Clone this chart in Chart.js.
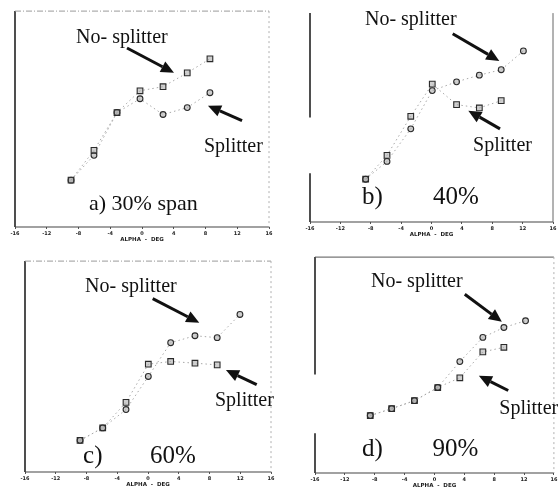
<!DOCTYPE html>
<html>
<head>
<meta charset="utf-8">
<script src="https://cdn.jsdelivr.net/npm/chart.js@4.4.1/dist/chart.umd.min.js"></script>
<style>
  html, body { margin: 0; padding: 0; background: #fff; width: 559px; height: 492px; overflow: hidden; }
  .panel { position: absolute; }
</style>
</head>
<body>
<div id="pa" class="panel"><canvas id="ca"></canvas></div>
<div id="pb" class="panel"><canvas id="cb"></canvas></div>
<div id="pc" class="panel"><canvas id="cc"></canvas></div>
<div id="pd" class="panel"><canvas id="cd"></canvas></div>
<script>
// ---- data (angle of attack in degrees; y in relative, unlabelled units 0..100) ----
const alphaTicks = [-16, -12, -8, -4, 0, 4, 8, 12, 16];

// a) 30% span
const alphaA    = [-8.94, -6.05, -3.15, -0.25, 2.65, 5.70, 8.56];
const noSplitA  = [21.7, 35.5, 53.0, 63.1, 65.0, 71.4, 77.9];
const splitA    = [21.7, 33.2, 53.0, 59.4, 52.1, 55.3, 62.2];

// b) 40%
const alphaB    = [-8.67, -5.86, -2.73, 0.10, 3.30, 6.30, 9.18, 12.10];
const noSplitB  = [20.5, 29.0, 44.6, 62.9, 67.1, 70.3, 72.9, 81.9];
const splitB    = [20.5, 31.9, 50.6, 66.0, 56.2, 54.6, 58.1, null];

// c) 60%
const alphaC    = [-8.84, -5.89, -2.86, 0.04, 2.95, 6.11, 9.00, 11.96];
const noSplitC  = [15.0, 20.9, 29.6, 45.3, 61.3, 64.6, 63.7, 74.7];
const splitC    = [15.0, 20.9, 33.0, 51.1, 52.4, 51.6, 50.8, null];

// d) 90%
const alphaD    = [-8.60, -5.73, -2.68, 0.44, 3.40, 6.48, 9.30, 12.20];
const noSplitD  = [26.6, 29.8, 33.5, 39.6, 51.6, 62.8, 67.4, 70.5];
const splitD    = [26.6, 29.8, 33.5, 39.6, 44.1, 56.1, 58.2, null];

const panelLabels = ['a) 30% span', 'b)', 'c)', 'd)'];
const panelPercents = [null, '40%', '60%', '90%'];

// ---- panel layout (page pixels of the plot frame) ----
const panels = [
  { id: 'pa', canvas: 'ca', frame: { L: 15, T: 10, R: 269, B: 227 },
    alpha: alphaA, noSplit: noSplitA, split: splitA, noSplitStyle: 'rect', splitStyle: 'circle',
    leftSegs: [[0, 100]], top: 'dot', right: 'dot',
    texts: [
      { t: 'No- splitter', x: -8.31, y: 85.3, s: 20 },
      { t: 'Splitter', x: 7.81, y: 34.6, s: 20 },
      { t: panelLabels[0], x: -6.68, y: 7.8, s: 22 }
    ],
    arrows: [
      { x0: -1.89, y0: 82.9, x1: 4.03, y1: 71.4 },
      { x0: 12.6, y0: 49.3, x1: 8.31, y1: 56.2 }
    ] },
  { id: 'pb', canvas: 'cb', frame: { L: 310, T: 12, R: 553, B: 222 },
    alpha: alphaB, noSplit: noSplitB, split: splitB, noSplitStyle: 'circle', splitStyle: 'rect',
    leftSegs: [[50, 100], [0, 23.3]], top: 'none', right: 'solid',
    texts: [
      { t: 'No- splitter', x: -8.76, y: 94.3, s: 20 },
      { t: 'Splitter', x: 5.47, y: 33.8, s: 20 },
      { t: panelLabels[1], x: -9.16, y: 8.6, s: 25 },
      { t: panelPercents[1], x: 0.2, y: 8.6, s: 25 }
    ],
    arrows: [
      { x0: 2.79, y0: 90.1, x1: 8.93, y1: 77.1 },
      { x0: 9.02, y0: 44.6, x1: 4.85, y1: 53.3 }
    ] },
  { id: 'pc', canvas: 'cc', frame: { L: 25, T: 260, R: 271, B: 472 },
    alpha: alphaC, noSplit: noSplitC, split: splitC, noSplitStyle: 'circle', splitStyle: 'rect',
    leftSegs: [[0, 100]], top: 'dot', right: 'dot',
    texts: [
      { t: 'No- splitter', x: -8.19, y: 85.4, s: 20 },
      { t: 'Splitter', x: 8.71, y: 31.1, s: 20 },
      { t: panelLabels[2], x: -8.45, y: 4.2, s: 25 },
      { t: panelPercents[2], x: 0.26, y: 4.2, s: 25 }
    ],
    arrows: [
      { x0: 0.61, y0: 82.2, x1: 6.67, y1: 70.8 },
      { x0: 14.14, y0: 41.4, x1: 10.14, y1: 48.4 }
    ] },
  { id: 'pd', canvas: 'cd', frame: { L: 315, T: 256, R: 557, B: 473 },
    alpha: alphaD, noSplit: noSplitD, split: splitD, noSplitStyle: 'circle', splitStyle: 'rect',
    leftSegs: [[45.6, 100], [0, 18.4]], top: 'solid', right: 'dot',
    texts: [
      { t: 'No- splitter', x: -8.5, y: 86.2, s: 20 },
      { t: 'Splitter', x: 8.69, y: 27.2, s: 20 },
      { t: panelLabels[3], x: -9.69, y: 7.8, s: 25 },
      { t: panelPercents[3], x: -0.26, y: 7.8, s: 25 }
    ],
    arrows: [
      { x0: 4.06, y0: 82.8, x1: 9.03, y1: 70.0 },
      { x0: 9.88, y0: 38.2, x1: 5.95, y1: 45.0 }
    ] }
];

const framePlugin = {
  id: 'frame',
  beforeDatasetsDraw(chart, args, opts) {
    const p = opts.panel; const ctx = chart.ctx; const a = chart.chartArea;
    const ys = chart.scales.y;
    ctx.save();
    ctx.strokeStyle = '#222'; ctx.lineWidth = 1.6; ctx.setLineDash([]);
    p.leftSegs.forEach(sg => {
      ctx.beginPath();
      ctx.moveTo(a.left, ys.getPixelForValue(sg[0]));
      ctx.lineTo(a.left, ys.getPixelForValue(sg[1]));
      ctx.stroke();
    });
    ctx.strokeStyle = '#444'; ctx.lineWidth = 1.2;
    ctx.beginPath(); ctx.moveTo(a.left, a.bottom); ctx.lineTo(a.right, a.bottom); ctx.stroke();
    if (p.top !== 'none') {
      ctx.strokeStyle = p.top === 'solid' ? '#555' : '#9a9a9a';
      ctx.lineWidth = 1;
      ctx.setLineDash(p.top === 'solid' ? [] : [6, 2, 1, 2]);
      ctx.beginPath(); ctx.moveTo(a.left, a.top); ctx.lineTo(a.right, a.top); ctx.stroke();
    }
    ctx.strokeStyle = p.right === 'solid' ? '#666' : '#b0b0b0';
    ctx.lineWidth = 1;
    ctx.setLineDash(p.right === 'solid' ? [] : [2, 3]);
    ctx.beginPath(); ctx.moveTo(a.right, a.top); ctx.lineTo(a.right, a.bottom); ctx.stroke();
    ctx.restore();
  }
};

const annotPlugin = {
  id: 'annot',
  afterDraw(chart, args, opts) {
    const p = opts.panel; const ctx = chart.ctx;
    const xs = chart.scales.x, ys = chart.scales.y;
    ctx.save();
    ctx.fillStyle = '#111'; ctx.textBaseline = 'alphabetic'; ctx.textAlign = 'left';
    p.texts.forEach(t => {
      ctx.font = t.s + 'px "Liberation Serif", "Times New Roman", serif';
      ctx.fillText(t.t, xs.getPixelForValue(t.x), ys.getPixelForValue(t.y));
    });
    p.arrows.forEach(ar => {
      const x0 = xs.getPixelForValue(ar.x0), y0 = ys.getPixelForValue(ar.y0);
      const x1 = xs.getPixelForValue(ar.x1), y1 = ys.getPixelForValue(ar.y1);
      const ang = Math.atan2(y1 - y0, x1 - x0);
      const hl = 13, hw = 6;
      const bx = x1 - hl * Math.cos(ang), by = y1 - hl * Math.sin(ang);
      ctx.strokeStyle = '#111'; ctx.lineWidth = 3; ctx.lineCap = 'butt';
      ctx.beginPath(); ctx.moveTo(x0, y0); ctx.lineTo(bx, by); ctx.stroke();
      ctx.beginPath();
      ctx.moveTo(x1, y1);
      ctx.lineTo(bx + hw * Math.sin(ang), by - hw * Math.cos(ang));
      ctx.lineTo(bx - hw * Math.sin(ang), by + hw * Math.cos(ang));
      ctx.closePath(); ctx.fill();
    });
    ctx.restore();
  }
};

function pts(alpha, vals) {
  return alpha.map((a, i) => ({ x: a, y: vals[i] })).filter(d => d.y !== null);
}

function ds(label, data, style) {
  const r = style === 'rect' ? 4.0 : 2.9;
  return {
    label, data, showLine: true,
    borderColor: '#a8a8a8', borderWidth: 1, borderDash: [1.5, 3],
    pointStyle: style, pointRadius: r,
    pointBackgroundColor: 'rgba(160,160,160,0.5)', pointBorderColor: '#2a2a2a', pointBorderWidth: 1.1
  };
}

const PAD_T = 4, X_H = 20;
panels.forEach(p => {
  const f = p.frame;
  const padL = 10, padR = Math.max(2, Math.min(10, 559 - f.R));
  const div = document.getElementById(p.id);
  div.style.left = (f.L - padL) + 'px';
  div.style.top = (f.T - PAD_T) + 'px';
  div.style.width = (f.R - f.L + padL + padR) + 'px';
  div.style.height = (f.B - f.T + PAD_T + X_H) + 'px';

  new Chart(document.getElementById(p.canvas), {
    type: 'scatter',
    data: { datasets: [ ds('No- splitter', pts(p.alpha, p.noSplit), p.noSplitStyle),
                        ds('Splitter', pts(p.alpha, p.split), p.splitStyle) ] },
    options: {
      animation: false, responsive: true, maintainAspectRatio: false, devicePixelRatio: 1,
      layout: { padding: { left: padL, right: padR, top: PAD_T, bottom: 0 } },
      plugins: { legend: { display: false }, tooltip: { enabled: false },
                 frame: { panel: p }, annot: { panel: p } },
      scales: {
        x: {
          type: 'linear', min: -16, max: 16,
          afterBuildTicks: s => { s.ticks = alphaTicks.map(v => ({ value: v })); },
          afterFit: s => { s.height = X_H; },
          grid: { display: true, drawOnChartArea: false, tickLength: 2, color: '#555', lineWidth: 1 },
          border: { display: false },
          ticks: { font: { size: 5, weight: 'bold', family: 'DejaVu Sans' }, color: '#222', padding: 1.5, maxRotation: 0, autoSkip: false },
          title: { display: true, text: 'ALPHA  -  DEG', color: '#222',
                   font: { size: 5.5, weight: 'bold', family: 'DejaVu Sans' }, padding: { top: 0, bottom: 4.5 } }
        },
        y: {
          min: 0, max: 100,
          afterFit: s => { s.width = 0; },
          ticks: { display: false }, grid: { display: false }, border: { display: false }
        }
      }
    },
    plugins: [framePlugin, annotPlugin]
  });
});
</script>
</body>
</html>
